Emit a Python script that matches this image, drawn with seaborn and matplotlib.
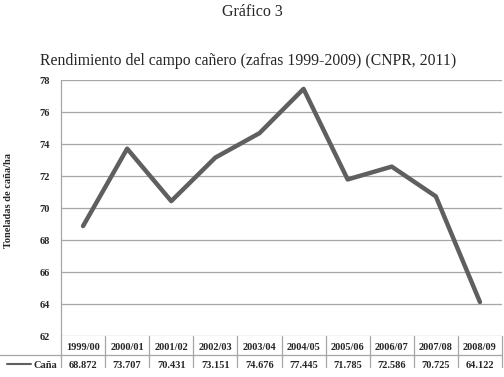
import numpy as np
import pandas as pd
import matplotlib
matplotlib.use("Agg")
import matplotlib.pyplot as plt
import matplotlib.transforms as mtransforms
import seaborn as sns

# data (zafras 1999-2009)
seasons = ["1999/00", "2000/01", "2001/02", "2002/03", "2003/04",
           "2004/05", "2005/06", "2006/07", "2007/08", "2008/09"]
yields = [68.872, 73.707, 70.431, 73.151, 74.676,
          77.445, 71.785, 72.586, 70.725, 64.122]
yticks = [62, 64, 66, 68, 70, 72, 74, 76, 78]

df = pd.DataFrame({"pos": range(len(seasons)), "zafra": seasons, "Caña": yields})

sns.set_style("white")
plt.rcParams['font.family'] = ['Liberation Serif', 'DejaVu Serif']

W, H = 504, 377
fig = plt.figure(figsize=(W / 100, H / 100), dpi=100)
x0, x1, y0, y1 = 61, 502, 80, 336
ax = fig.add_axes([x0 / W, 1 - y1 / H, (x1 - x0) / W, (y1 - y0) / H])

grid_c = "#a6a6a6"
line_c = "#5f5f5f"

sns.lineplot(data=df, x="pos", y="Caña", ax=ax, color=line_c, linewidth=3.2,
             legend=False)

ax.set_xlim(-0.5, len(seasons) - 0.5)
ax.set_ylim(62, 78)
ax.set_yticks(yticks)
ax.set_yticklabels([str(v) for v in yticks], fontsize=7.5, fontweight="bold")
ax.set_xticks([])
ax.set_xlabel("")
ax.set_ylabel("")
ax.tick_params(axis="y", length=0, pad=8)
for v in yticks:
    ax.axhline(v, color=grid_c, linewidth=0.9, zorder=0)
for s in ["top", "right", "bottom"]:
    ax.spines[s].set_visible(False)
ax.spines["left"].set_color(grid_c)
ax.spines["left"].set_linewidth(0.9)

# titles and axis label
fig.text(252 / W, 1 - 12 / H, "Gráfico 3", ha="center", va="center", fontsize=11.5)
fig.text(248 / W, 1 - 61 / H, "Rendimiento del campo cañero (zafras 1999-2009) (CNPR, 2011)",
         ha="center", va="center", fontsize=11.3)
fig.text(9 / W, 1 - 201 / H, "Toneladas de caña/ha", rotation=90, ha="center",
         va="center", fontsize=7.5, fontweight="bold")

# data table below the plot
trans = mtransforms.blended_transform_factory(ax.transData, fig.transFigure)
row1 = 1 - 347 / H
row2 = 1 - 366 / H
for i, (lab, val) in enumerate(zip(seasons, yields)):
    ax.text(i, row1, lab, transform=trans, ha="center", va="center",
            fontsize=7.5, fontweight="bold", clip_on=False)
    ax.text(i, row2, f"{val:.3f}", transform=trans, ha="center", va="center",
            fontsize=7.5, fontweight="bold", clip_on=False)
for i in range(len(seasons) + 1):
    ax.plot([i - 0.5, i - 0.5], [1 - 336 / H, 1 - 368 / H], transform=trans,
            color=grid_c, linewidth=0.9, clip_on=False)
fig.add_artist(plt.Line2D([0, x1 / W], [1 - 355 / H, 1 - 355 / H],
                          color=grid_c, linewidth=0.9))
fig.add_artist(plt.Line2D([7 / W, 31 / W], [1 - 364 / H, 1 - 364 / H],
                          color=line_c, linewidth=1.5))
fig.text(33 / W, 1 - 365 / H, "Caña", ha="left", va="center",
         fontsize=7.5, fontweight="bold")

# the source picture is cut off below the table text
fig.add_artist(plt.Rectangle((0, 0), 1, 1 - 368 / H, transform=fig.transFigure,
                             facecolor="white", edgecolor="none", zorder=10))

fig.savefig("out.png", dpi=100)
